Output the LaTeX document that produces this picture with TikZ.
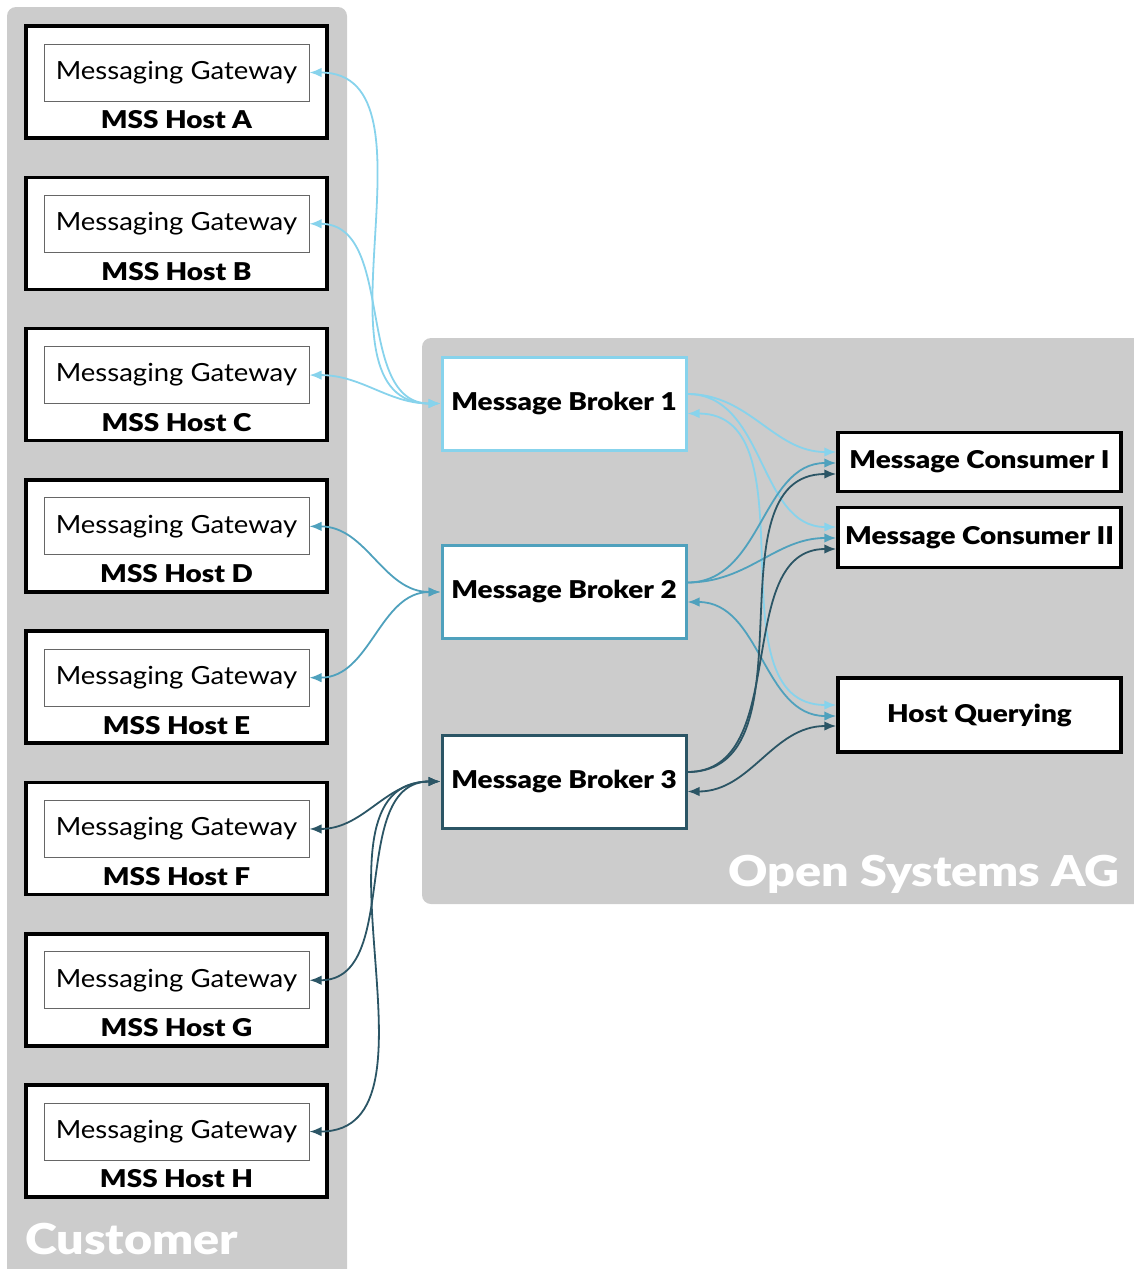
\documentclass[tikz,border=0pt]{standalone}
\usepackage{fontspec}
\setmainfont[FakeStretch=1.1, BoldFont={Lato Black}, BoldFeatures={FakeStretch=1.14}]{Lato}
\usetikzlibrary{arrows.meta,calc}
\definecolor{panel}{HTML}{CCCCCC}
\definecolor{lightc}{HTML}{87D3EC}
\definecolor{midc}{HTML}{4FA1BD}
\definecolor{darkc}{HTML}{2B5565}
\definecolor{gwline}{HTML}{666666}
\tikzset{
  hostbox/.style={draw=black, line width=3.5pt, fill=white, minimum width=301pt, minimum height=112pt, inner sep=0pt},
  gwbox/.style={draw=gwline, line width=1pt, fill=white, minimum width=265pt, minimum height=57pt, inner sep=0pt, font=\fontsize{25}{30}\selectfont},
  hostlabel/.style={font=\fontsize{24.5}{30}\selectfont\bfseries, inner sep=0pt},
  broker/.style={line width=3pt, fill=white, minimum width=244pt, minimum height=93pt, inner sep=0pt, font=\fontsize{24.5}{30}\selectfont\bfseries},
  consumer/.style={draw=black, line width=3.5pt, fill=white, minimum width=283pt, inner sep=0pt, font=\fontsize{24.5}{30}\selectfont\bfseries},
  paneltitle/.style={text=white, inner sep=0pt, font=\fontsize{42.5}{50}\selectfont\bfseries},
  link/.style={line width=1.8pt, {Latex[length=12pt,width=9.5pt]}-{Latex[length=12pt,width=9.5pt]}},
  feed/.style={line width=1.8pt, -{Latex[length=12pt,width=9.5pt]}},
}
\begin{document}
\begin{tikzpicture}[x=1pt,y=-1pt]
\useasboundingbox (0,0) rectangle (1134,1269);

% grey panels
\begin{scope}
  \clip (0,0) rectangle (1134,1269);
  \fill[panel, rounded corners=9pt] (7,7) rectangle (347,1290);
  \fill[panel, rounded corners=9pt] (422,338) rectangle (1160,904);
\end{scope}
\node[paneltitle, anchor=base west] (custtitle) at (25,1254) {Customer};
\node[paneltitle, anchor=base east] (ostitle) at (1120,886) {Open Systems AG};

% customer hosts with their messaging gateways
\foreach \L [count=\i from 0] in {A,B,C,D,E,F,G,H} {
  \pgfmathsetmacro{\yt}{25+151.29*\i}
  \node[hostbox] (h\L) at (176.5,\yt+57) {};
  \node[gwbox] (g\L) at (176.5,\yt+47.5) {Messaging Gateway};
  \node[hostlabel] (l\L) at (176.5,\yt+95) {MSS Host \L};
}

% brokers
\node[broker, draw=lightc] (b1) at (564,403.5) {Message Broker 1};
\node[broker, draw=midc]   (b2) at (564,592)   {Message Broker 2};
\node[broker, draw=darkc]  (b3) at (564,781.5) {Message Broker 3};

% consumers
\node[consumer, minimum height=59pt] (c1) at (979.5,462)   {Message Consumer I};
\node[consumer, minimum height=60pt] (c2) at (979.5,537.5) {Message Consumer II};
\node[consumer, minimum height=74pt] (hq) at (979.5,715)   {Host Querying};

% connector end points on the broker and consumer sides
\foreach \b in {1,2,3} {
  \coordinate (b\b o) at ($(b\b.east)+(0,-9.5)$);
  \coordinate (b\b i) at ($(b\b.east)+(0,10)$);
}
\coordinate (c1a) at ($(c1.west)+(0,-10)$);
\coordinate (c1b) at ($(c1.west)+(0,1)$);
\coordinate (c1c) at ($(c1.west)+(0,12)$);
\coordinate (c2a) at ($(c2.west)+(0,-10.5)$);
\coordinate (c2b) at ($(c2.west)+(0,0.5)$);
\coordinate (c2c) at ($(c2.west)+(0,11.5)$);
\coordinate (hqa) at ($(hq.west)+(0,-10)$);
\coordinate (hqb) at ($(hq.west)+(0,1)$);
\coordinate (hqc) at ($(hq.west)+(0,11)$);

% gateways to brokers
\foreach \g in {A,B,C}
  \draw[link, lightc] (g\g.east) to[out=0,in=180] (b1.west);
\foreach \g in {D,E}
  \draw[link, midc] (g\g.east) to[out=0,in=180] (b2.west);
\foreach \g in {F,G,H}
  \draw[link, darkc] (g\g.east) to[out=0,in=180] (b3.west);

% brokers to consumers
\draw[feed, lightc] (b1o) to[out=0,in=180] (c1a);
\draw[feed, lightc] (b1o) to[out=0,in=180] (c2a);
\draw[link, lightc] (b1i) to[out=0,in=180] (hqa);
\draw[feed, midc] (b2o) to[out=0,in=180] (c1b);
\draw[feed, midc] (b2o) to[out=0,in=180] (c2b);
\draw[link, midc] (b2i) to[out=0,in=180] (hqb);
\draw[feed, darkc] (b3o) to[out=0,in=180] (c1c);
\draw[feed, darkc] (b3o) to[out=0,in=180] (c2c);
\draw[link, darkc] (b3i) to[out=0,in=180] (hqc);
\end{tikzpicture}
\end{document}
